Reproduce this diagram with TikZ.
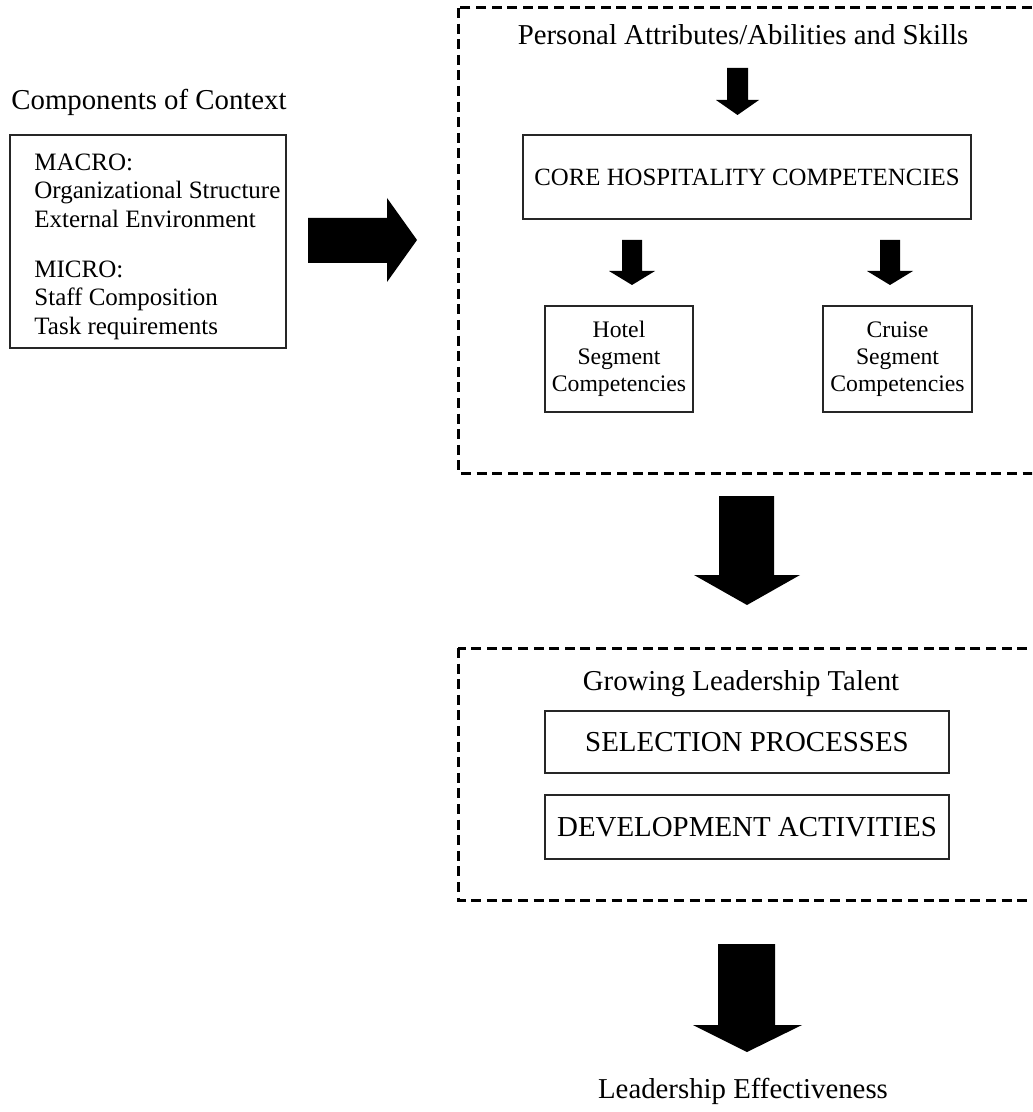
\documentclass[tikz,border=0pt]{standalone}
\usepackage{fontspec}
\setmainfont{Liberation Serif}

\begin{document}
\begin{tikzpicture}[x=0.5pt,y=-0.5pt,
    box/.style={draw=black!85, line width=1pt, inner sep=0pt, align=center},
    dashbox/.style={draw, line width=1.5pt, dash pattern=on 5pt off 2.8pt},
    fat/.style={fill=black},
    title/.style={font=\fontsize{14.4}{17}\selectfont, inner sep=0pt, anchor=base}]
        \clip (0,0) rectangle (1032,1112);
        %contesto
        \node[title] (ctxtitle) at (149,110) {Components of Context};
        \node[box, minimum width=138pt, minimum height=106.5pt] (ctxbox) at (148,241.5) {};
        \node[anchor=north west, align=left, inner sep=0pt, font=\fontsize{12.5}{14.25}\selectfont] (ctxtext) at (34,153.5)
            {MACRO:\\Organizational Structure\\External Environment\\[10.75pt]MICRO:\\Staff Composition\\Task requirements};
        \fill[fat] (308,218) -- (387,218) -- (387,198) -- (417,240) -- (387,282) -- (387,263) -- (308,263) -- cycle;
        %competenze
        \draw[dashbox] (458,8) rectangle (1060,473);
        \node[title] (persattr) at (743,45) {Personal Attributes/Abilities and Skills};
        \fill[fat] (727,68) -- (748,68) -- (748,100) -- (759,100) -- (737.5,115) -- (716,100) -- (727,100) -- cycle;
        \node[box, minimum width=224pt, minimum height=42pt, font=\fontsize{12.4}{15}\selectfont] (core) at (747,177) {CORE HOSPITALITY COMPETENCIES};
        \fill[fat] (622,240) -- (642,240) -- (642,271) -- (655,271) -- (632,285) -- (609,271) -- (622,271) -- cycle;
        \fill[fat] (880,240) -- (900,240) -- (900,271) -- (913,271) -- (890,285) -- (867,271) -- (880,271) -- cycle;
        \node[box, minimum width=74pt, minimum height=53pt, font=\fontsize{11.85}{13.5}\selectfont] (hotel) at (619,359) {Hotel\\Segment\\Competencies};
        \node[box, minimum width=74.5pt, minimum height=53pt, font=\fontsize{11.85}{13.5}\selectfont] (cruise) at (897.5,359) {Cruise\\Segment\\Competencies};
        \fill[fat] (719,496) -- (774,496) -- (774,575) -- (800,575) -- (747,605) -- (694,575) -- (719,575) -- cycle;
        %talento
        \draw[dashbox] (458,648) rectangle (1060,900);
        \node[title] (growing) at (741,690) {Growing Leadership Talent};
        \node[box, minimum width=202pt, minimum height=31pt, font=\fontsize{14.45}{17}\selectfont] (selection) at (747,742) {SELECTION PROCESSES};
        \node[box, minimum width=202pt, minimum height=32pt, font=\fontsize{14.45}{17}\selectfont] (development) at (747,827) {DEVELOPMENT ACTIVITIES};
        \fill[fat] (718,944) -- (775,944) -- (775,1025) -- (802,1025) -- (747,1052) -- (693,1025) -- (718,1025) -- cycle;
        \node[title] (effect) at (743,1098) {Leadership Effectiveness};
\end{tikzpicture}
\end{document}
